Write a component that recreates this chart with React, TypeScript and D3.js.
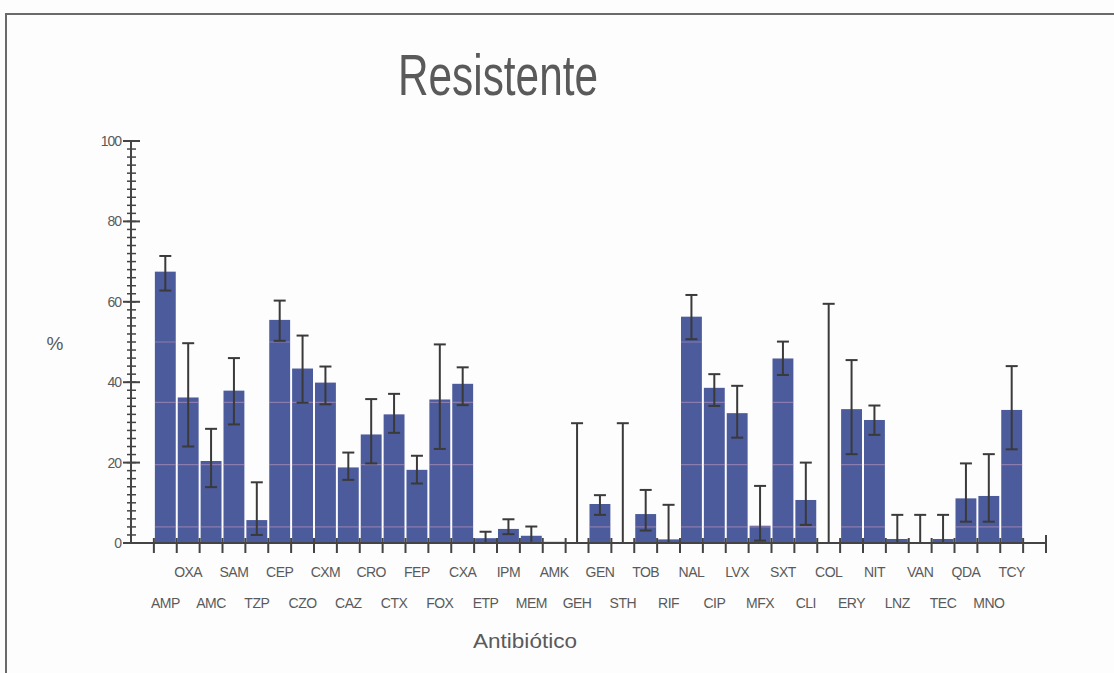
import React from 'react';
import * as d3 from 'd3';

const categories = [
  'AMP', 'OXA', 'AMC', 'SAM', 'TZP', 'CEP', 'CZO', 'CXM', 'CAZ', 'CRO',
  'CTX', 'FEP', 'FOX', 'CXA', 'ETP', 'IPM', 'MEM', 'AMK', 'GEH', 'GEN',
  'STH', 'TOB', 'RIF', 'NAL', 'CIP', 'LVX', 'MFX', 'SXT', 'CLI', 'COL',
  'ERY', 'NIT', 'LNZ', 'VAN', 'TEC', 'QDA', 'MNO', 'TCY',
];
const values = [
  67.5, 36.2, 20.4, 37.9, 5.7, 55.5, 43.4, 39.9, 18.8, 27.0,
  32.0, 18.2, 35.7, 39.6, 1.2, 3.5, 1.8, 0.3, 0, 9.7,
  0, 7.2, 0.9, 56.3, 38.6, 32.3, 4.3, 45.9, 10.7, 0,
  33.3, 30.6, 1.0, 0, 1.0, 11.1, 11.7, 33.1,
];
const lower = [
  62.8, 24.0, 13.9, 29.5, 2.0, 50.3, 34.9, 34.5, 15.7, 19.8,
  27.4, 14.8, 23.4, 34.3, 0, 2.2, 0.3, 0.3, 0, 7.0,
  0, 3.1, 0, 50.7, 34.1, 26.2, 0.6, 41.8, 4.5, 0,
  22.1, 26.9, 0, 0, 0, 5.3, 5.3, 23.3,
];
const upper = [
  71.4, 49.7, 28.4, 46.0, 15.1, 60.3, 51.6, 43.9, 22.5, 35.8,
  37.1, 21.7, 49.4, 43.7, 2.8, 5.9, 4.1, 0.3, 29.8, 11.9,
  29.8, 13.2, 9.5, 61.7, 42.0, 39.1, 14.2, 50.1, 20.0, 59.5,
  45.5, 34.2, 7.0, 7.0, 7.0, 19.8, 22.1, 44.0,
];
const yTicks = [0, 20, 40, 60, 80, 100];
// faint scan stripes visible inside the bars
const stripeLevels = [4, 19.5, 35, 50];

const FONT = '"Liberation Sans", Arial, sans-serif';
const TEXT = '#5a5a5a';
const AXIS = '#444';
const BAR = '#4b5b9c';

export default function App() {
  const width = 1114;
  const height = 673;
  const n = categories.length;

  const x = d3.scaleLinear().domain([0, n + 2]).range([131, 1046]);
  const y = d3.scaleLinear().domain([0, 100]).range([543, 141]);
  const minor = d3.range(0, 101, 2);

  return (
    <svg width={width} height={height} style={{ position: 'absolute', left: 0, top: 0, background: '#fff' }}>
      <rect x={0} y={0} width={width} height={height} fill="#fdfdfd" />
      {/* frame */}
      <line x1={6} y1={14} x2={width} y2={14} stroke="#6a6a6a" strokeWidth={2} />
      <line x1={6} y1={13} x2={6} y2={height} stroke="#6a6a6a" strokeWidth={2} />

      <text x={498} y={95} textAnchor="middle" fontFamily={FONT} fontSize={58} fill={TEXT}
        textLength={200} lengthAdjust="spacingAndGlyphs">Resistente</text>

      <defs>
        <clipPath id="barsClip">
          {categories.map((c, i) => (
            <rect key={c} x={x(i + 1) + 1} y={y(values[i])} width={x(i + 2) - x(i + 1) - 2}
              height={y(0) - y(values[i])} />
          ))}
        </clipPath>
      </defs>

      {/* bars */}
      {categories.map((c, i) => (
        <rect key={c} x={x(i + 1) + 1} y={y(values[i])} width={x(i + 2) - x(i + 1) - 2}
          height={y(0) - y(values[i])} fill={BAR} />
      ))}
      <g clipPath="url(#barsClip)">
        {stripeLevels.map(s => (
          <line key={s} x1={131} x2={1046} y1={y(s)} y2={y(s)} stroke="#d9a3c8" strokeOpacity={0.45} strokeWidth={1.2} />
        ))}
      </g>

      {/* error bars */}
      {categories.map((c, i) => {
        if (upper[i] - lower[i] < 0.5) return null;
        const cx = (x(i + 1) + x(i + 2)) / 2;
        return (
          <g key={c} stroke="#3a3a3a" strokeWidth={2}>
            <line x1={cx} x2={cx} y1={y(upper[i])} y2={y(lower[i])} />
            <line x1={cx - 6} x2={cx + 6} y1={y(upper[i])} y2={y(upper[i])} />
            {lower[i] > 0.5 && <line x1={cx - 6} x2={cx + 6} y1={y(lower[i])} y2={y(lower[i])} />}
          </g>
        );
      })}

      {/* y axis */}
      <g stroke={AXIS} strokeWidth={2}>
        <line x1={131} x2={131} y1={y(100)} y2={y(0)} />
        {minor.map(v => (
          <line key={v} x1={127} x2={136} y1={y(v)} y2={y(v)} strokeWidth={1.5} />
        ))}
        {yTicks.map(v => (
          <line key={'M' + v} x1={123} x2={140} y1={y(v)} y2={y(v)} />
        ))}
      </g>
      {yTicks.map(v => (
        <text key={v} x={121} y={y(v) + 5} textAnchor="end" fontFamily={FONT} fontSize={14} fill={TEXT}
          letterSpacing={-1}>{v}</text>
      ))}

      {/* x axis */}
      <g stroke={AXIS} strokeWidth={2}>
        <line x1={131} x2={1046} y1={543} y2={543} />
        {d3.range(1, n + 2).map(k => (
          <line key={k} x1={x(k)} x2={x(k)} y1={538} y2={553} />
        ))}
        <line x1={1046} x2={1046} y1={535} y2={553} />
      </g>
      {categories.map((c, i) => (
        <text key={c} x={(x(i + 1) + x(i + 2)) / 2} y={i % 2 === 1 ? 577 : 608} textAnchor="middle"
          fontFamily={FONT} fontSize={14} fill={TEXT} letterSpacing={-0.5}>{c}</text>
      ))}

      <text x={525} y={648} textAnchor="middle" fontFamily={FONT} fontSize={20} fill={TEXT}
        textLength={104} lengthAdjust="spacingAndGlyphs">Antibiótico</text>
      <text x={55} y={350} textAnchor="middle" fontFamily={FONT} fontSize={19} fill={TEXT}>%</text>
    </svg>
  );
}
